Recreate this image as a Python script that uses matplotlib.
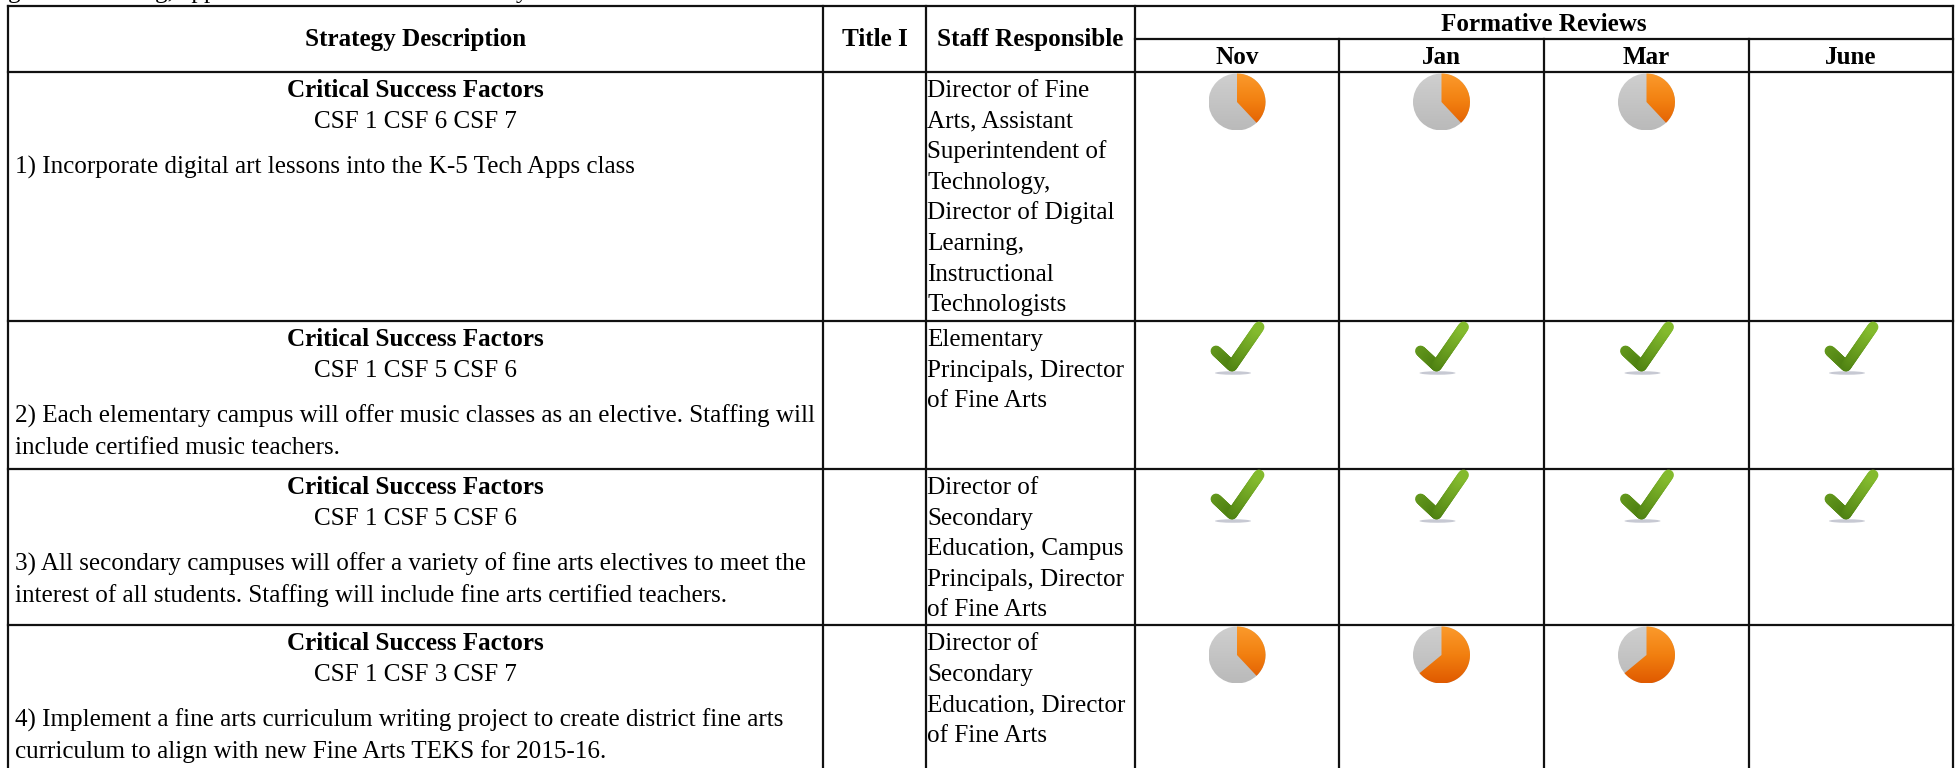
import numpy as np
import matplotlib.pyplot as plt
from matplotlib.patches import Wedge, Ellipse
from matplotlib.collections import LineCollection
from matplotlib.colors import LinearSegmentedColormap

plt.rcParams['font.family'] = ['Liberation Serif', 'DejaVu Serif']

# table content
months = ["Nov", "Jan", "Mar", "June"]
csf_lines = ["CSF 1 CSF 6 CSF 7", "CSF 1 CSF 5 CSF 6", "CSF 1 CSF 5 CSF 6", "CSF 1 CSF 3 CSF 7"]
strategies = [
    ["1) Incorporate digital art lessons into the K-5 Tech Apps class"],
    ["2) Each elementary campus will offer music classes as an elective. Staffing will",
     "include certified music teachers."],
    ["3) All secondary campuses will offer a variety of fine arts electives to meet the",
     "interest of all students. Staffing will include fine arts certified teachers."],
    ["4) Implement a fine arts curriculum writing project to create district fine arts",
     "curriculum to align with new Fine Arts TEKS for 2015-16."],
]
staff = [
    ["Director of Fine", "Arts, Assistant", "Superintendent of", "Technology,",
     "Director of Digital", "Learning,", "Instructional", "Technologists"],
    ["Elementary", "Principals, Director", "of Fine Arts"],
    ["Director of", "Secondary", "Education, Campus", "Principals, Director", "of Fine Arts"],
    ["Director of", "Secondary", "Education, Director", "of Fine Arts"],
]
# fraction complete per review, 1 = check mark, None = empty
reviews = [
    [0.38, 0.38, 0.38, None],
    [1, 1, 1, 1],
    [1, 1, 1, 1],
    [0.38, 0.64, 0.64, None],
]

# grid, in pixels of the page
col_x = [8, 823, 926, 1135, 1339, 1544, 1749, 1953]
row_y = [72, 321, 469, 625, 768]
top_y, form_y = 6, 39
LH = 30.6
FS = 18.1

fig = plt.figure(figsize=(19.59, 7.68), dpi=100)
ax = fig.add_axes([0, 0, 1, 1])
ax.set_xlim(0, 1959)
ax.set_ylim(768, 0)
ax.axis('off')

line = dict(color='#111111', lw=1.6, solid_capstyle='projecting')
for x in col_x[:4] + col_x[7:]:
    ax.plot([x, x], [top_y, 768], **line)
for x in col_x[4:7]:
    ax.plot([x, x], [form_y, 768], **line)
ax.plot([col_x[0], col_x[-1]], [top_y, top_y], **line)
ax.plot([col_x[3], col_x[-1]], [form_y, form_y], **line)
for y in row_y[:-1]:
    ax.plot([col_x[0], col_x[-1]], [y, y], **line)


def head(x, y, s):
    ax.text(x, y, s, ha='center', va='baseline', fontsize=FS, fontweight='bold', color='black', zorder=4)


def body(x, y, s, ha='left'):
    ax.text(x, y, s, ha=ha, va='baseline', fontsize=FS, color='black', zorder=4)


orange = LinearSegmentedColormap.from_list('o', ['#fb9a2c', '#f28010', '#e05a00'])
grey = LinearSegmentedColormap.from_list('g', ['#cfcfcf', '#bababa'])
green = LinearSegmentedColormap.from_list('c', ['#84bb2e', '#6a9f20', '#4f8212'])
ramp = np.linspace(0, 1, 64).reshape(-1, 1)


def draw_pie(cx, cy, frac):
    r = 28.5
    box = [cx - r, cx + r, cy + r, cy - r]
    disc = ax.imshow(ramp, cmap=grey, extent=box, aspect='auto', zorder=2)
    disc.set_clip_path(Ellipse((cx, cy), 2 * r, 2 * r, transform=ax.transData))
    im = ax.imshow(ramp, cmap=orange, extent=box, aspect='auto', zorder=2)
    # y axis is flipped, so the slice runs clockwise from 12 o'clock in the data angles
    im.set_clip_path(Wedge((cx, cy), r, -90, -90 + 360 * frac, transform=ax.transData))


def draw_check(cx, top):
    pts = np.array([[-21, 30], [-5, 45], [22, 6]], dtype=float)
    seg = []
    cols = []
    for a, b in zip(pts[:-1], pts[1:]):
        for t0, t1 in zip(np.linspace(0, 1, 24)[:-1], np.linspace(0, 1, 24)[1:]):
            p0, p1 = a + (b - a) * t0, a + (b - a) * t1
            seg.append([p0, p1])
            cols.append(green((0.5 * (p0[1] + p1[1]) - 6) / 39))
    seg = np.array(seg) + [cx, top]
    ax.add_collection(LineCollection(seg, colors=cols, linewidths=7.8, capstyle='round', zorder=2))
    ax.add_patch(Ellipse((cx - 4, top + 52), 36, 3.5, color='#b9bcc8', alpha=0.8, lw=0, zorder=1))


# headers
head((col_x[0] + col_x[1]) / 2, 46, "Strategy Description")
head((col_x[1] + col_x[2]) / 2, 46, "Title I")
head((col_x[2] + col_x[3]) / 2, 46, "Staff Responsible")
head((col_x[3] + col_x[7]) / 2, 31, "Formative Reviews")
for i, m in enumerate(months):
    head((col_x[3 + i] + col_x[4 + i]) / 2, 64, m)

# running text above the table, only its descenders are on the page
ax.text(8, -2, "g", va='baseline', fontsize=FS, clip_on=True)
ax.text(155, -2, "g, app", va='baseline', fontsize=FS, clip_on=True)
ax.text(516, -2, "y", va='baseline', fontsize=FS, clip_on=True)

mid = (col_x[0] + col_x[1]) / 2
for r in range(4):
    top = row_y[r]
    head(mid, top + 25, "Critical Success Factors")
    body(mid, top + 56, csf_lines[r], ha='center')
    for k, s in enumerate(strategies[r]):
        body(15, top + 102 + k * LH, s)
    for k, s in enumerate(staff[r]):
        body(col_x[2] + 1, top + 25 + k * LH, s)
    for c, v in enumerate(reviews[r]):
        cx = (col_x[3 + c] + col_x[4 + c]) / 2
        if v is None:
            continue
        if v == 1:
            draw_check(cx, top)
        else:
            draw_pie(cx, top + 30, v)

ax.set_xlim(0, 1959)
ax.set_ylim(768, 0)
fig.savefig("out.png", dpi=100)
